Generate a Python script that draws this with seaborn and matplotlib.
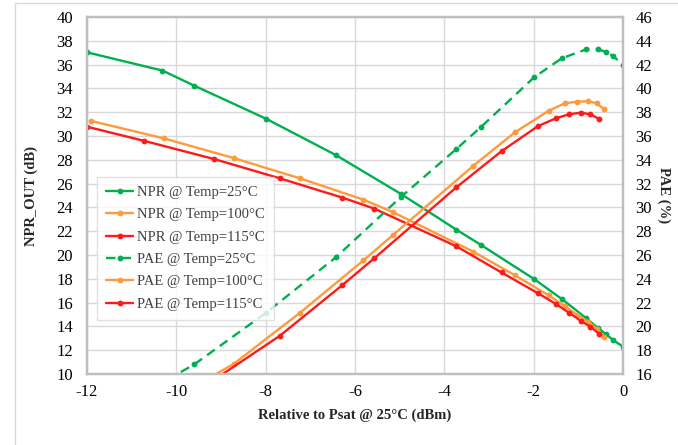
import numpy as np
import pandas as pd
import seaborn as sns
import matplotlib.pyplot as plt
from matplotlib.patches import Rectangle

# Input drive relative to Psat @ 25°C (dBm) for each temperature sweep
x_25 = [-12.0, -10.31, -9.60, -7.99, -6.43, -4.98, -3.73, -3.19, -1.99, -1.37, -0.82, -0.57, -0.38, -0.22, 0.0]
x_100 = [-11.9, -10.28, -8.72, -7.23, -5.81, -5.15, -3.35, -2.42, -1.66, -1.30, -1.04, -0.78, -0.59, -0.42]
x_115 = [-12.0, -10.73, -9.16, -7.69, -6.28, -5.57, -3.73, -2.72, -1.90, -1.50, -1.21, -0.95, -0.73, -0.53]

# NPR_OUT (dB)
npr_25 = [37.03, 35.5, 34.23, 31.45, 28.4, 25.15, 22.13, 20.87, 17.98, 16.3, 14.68, 13.89, 13.34, 12.85, 12.3]
npr_100 = [31.26, 29.8, 28.15, 26.44, 24.65, 23.6, 20.28, 18.3, 16.6, 15.7, 15.0, 14.4, 13.8, 13.1]
npr_115 = [30.78, 29.6, 28.07, 26.45, 24.82, 23.9, 20.73, 18.53, 16.78, 15.88, 15.15, 14.48, 13.97, 13.36]

# PAE (%)
pae_25 = [11.5, 15.3, 16.8, 21.15, 25.8, 30.85, 34.91, 36.72, 40.93, 42.53, 43.29, 43.29, 43.08, 42.72, 41.97]
pae_100 = [10.6, 13.5, 16.84, 21.15, 25.55, 27.68, 33.5, 36.31, 38.13, 38.75, 38.88, 38.92, 38.75, 38.24]
pae_115 = [10.0, 12.5, 15.5, 19.19, 23.48, 25.72, 31.69, 34.72, 36.84, 37.49, 37.82, 37.96, 37.82, 37.43]

labels_npr = ["NPR @ Temp=25°C", "NPR @ Temp=100°C", "NPR @ Temp=115°C"]
labels_pae = ["PAE @ Temp=25°C", "PAE @ Temp=100°C", "PAE @ Temp=115°C"]

x_ticks = [-12, -10, -8, -6, -4, -2, 0]
npr_ticks = list(range(10, 41, 2))
pae_ticks = list(range(16, 47, 2))

GREEN, ORANGE, RED = "#00B050", "#FF9A3C", "#FF1A1A"

sns.set_theme(style="white")
plt.rcParams['font.family'] = ['Liberation Serif', 'DejaVu Serif']
plt.rcParams['axes.unicode_minus'] = False

fig = plt.figure(figsize=(6.78, 4.45), dpi=100)
ax = fig.add_axes([87 / 678, 71 / 445, 536 / 678, 357 / 445])
ax2 = ax.twinx()

line_kw = dict(marker='o', markersize=4.2, markeredgewidth=0, linewidth=1.7,
               estimator=None, sort=False)

for xs, ys, col, lab in zip([x_25, x_100, x_115], [npr_25, npr_100, npr_115],
                            [GREEN, ORANGE, RED], labels_npr):
    df = pd.DataFrame({"x": xs, "y": ys})
    sns.lineplot(data=df, x="x", y="y", ax=ax, color=col, label=lab, **line_kw)

for xs, ys, col, lab, ls in zip([x_25, x_100, x_115], [pae_25, pae_100, pae_115],
                                [GREEN, ORANGE, RED], labels_pae,
                                [(0, (4, 2.6)), '-', '-']):
    df = pd.DataFrame({"x": xs, "y": ys})
    sns.lineplot(data=df, x="x", y="y", ax=ax2, color=col, label=lab,
                 linestyle=ls, **line_kw)

ax.set_xlim(-12, 0)
ax.set_ylim(10, 40)
ax2.set_ylim(16, 46)
ax.set_xticks(x_ticks)
ax.set_yticks(npr_ticks)
ax2.set_yticks(pae_ticks)

ax.grid(True, color="#D9D9D9", linewidth=1.0)
ax2.grid(False)
ax.set_axisbelow(True)

for a in (ax, ax2):
    for s in a.spines.values():
        s.set_color("#BFBFBF")
        s.set_linewidth(1.6)
    a.tick_params(axis='both', length=0, labelsize=12, labelcolor="black")
ax.tick_params(axis='x', pad=7)
ax.tick_params(axis='y', pad=10)
ax2.tick_params(axis='y', pad=9)

ax.set_xlabel("Relative to Psat @ 25°C (dBm)", fontsize=10.5, fontweight='bold')
ax.set_ylabel("NPR_OUT (dB)", fontsize=10.5, fontweight='bold')
ax2.set_ylabel("PAE (%)", fontsize=10.5, fontweight='bold', rotation=270)
ax.xaxis.set_label_coords(0.5, -0.097)
ax.yaxis.set_label_coords(-0.092, 0.5)
ax2.yaxis.set_label_coords(1.088, 0.5)

ax.get_legend().remove()
h1, l1 = ax.get_legend_handles_labels()
h2, l2 = ax2.get_legend_handles_labels()
leg = ax2.legend(h1 + h2, l1 + l2, loc='upper left', bbox_to_anchor=(0.0187, 0.552),
                 borderaxespad=0, fontsize=10.5, frameon=True, fancybox=False,
                 handlelength=1.9, labelspacing=0.63, borderpad=0.6, handletextpad=0.25)
leg.get_frame().set_edgecolor("#D9D9D9")
leg.get_frame().set_linewidth(1.0)
for t in leg.get_texts():
    t.set_color("#404040")

# Chart-area border
fig.patches.append(Rectangle((15 / 678, -0.05), 1.0, 1 - 3 / 445 + 0.05,
                             transform=fig.transFigure, fill=False,
                             edgecolor="#D9D9D9", linewidth=1.0))

fig.savefig("out.png", dpi=100)
